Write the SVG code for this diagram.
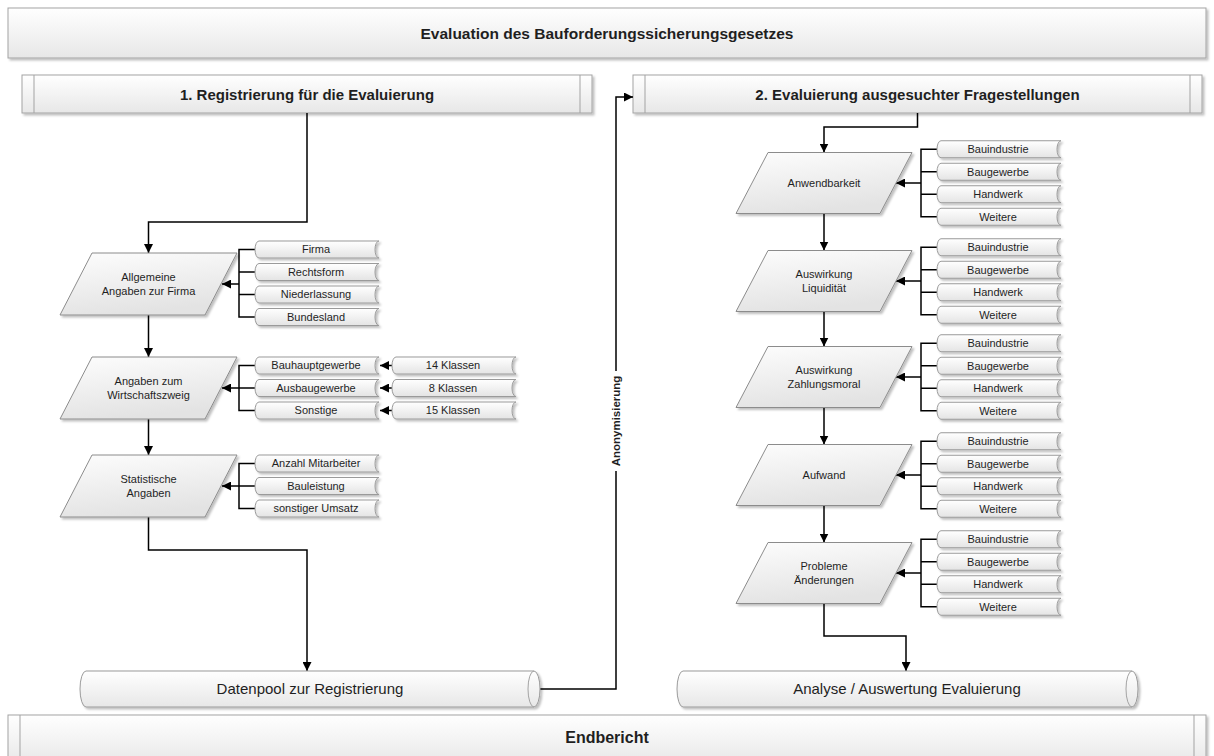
<svg xmlns="http://www.w3.org/2000/svg" xmlns:xlink="http://www.w3.org/1999/xlink" width="1214" height="756" viewBox="0 0 1214 756">
<defs>
<linearGradient id="gBar" x1="0" y1="0" x2="0" y2="1"><stop offset="0" stop-color="#ffffff"/><stop offset="1" stop-color="#e7e7e7"/></linearGradient>
<linearGradient id="gItem" x1="0" y1="0" x2="0" y2="1"><stop offset="0" stop-color="#ffffff"/><stop offset="1" stop-color="#e4e4e4"/></linearGradient>
<linearGradient id="gPar" x1="0" y1="0" x2="0.3" y2="1"><stop offset="0" stop-color="#fdfdfd"/><stop offset="1" stop-color="#e3e3e3"/></linearGradient>
<filter id="sh" x="-10%" y="-20%" width="130%" height="160%"><feDropShadow dx="2" dy="2" stdDeviation="1.2" flood-color="#000" flood-opacity="0.25"/></filter>
<marker id="arr" viewBox="0 0 10 10" refX="10" refY="5" markerWidth="9" markerHeight="9" markerUnits="userSpaceOnUse" orient="auto"><path d="M0,0 L10,5 L0,10 z" fill="#000"/></marker>
<path id="itemShape" d="M4,-8.5 H124 A4 8.5 0 0 0 124,8.5 H4 A4 8.5 0 0 1 4,-8.5 Z"/>
<style>
text{font-family:"Liberation Sans",Arial,sans-serif;fill:#1f1f1f;text-anchor:middle}
.t{font-size:11px}
.hb{font-size:15px;font-weight:bold}
.tb{font-size:15.5px;font-weight:bold}
.eb{font-size:16px;font-weight:bold}
.cy{font-size:15px}
.an{font-size:11.5px;font-weight:bold}
.bar{fill:url(#gBar);stroke:#a3a3a3;stroke-width:1;filter:url(#sh)}
.sep{stroke:#a3a3a3;stroke-width:1;fill:none}
.par{fill:url(#gPar);stroke:#8c8c8c;stroke-width:1;filter:url(#sh)}
.it{fill:url(#gItem);stroke:#9a9a9a;stroke-width:1;filter:url(#sh)}
.cyl{fill:url(#gBar);stroke:#9a9a9a;stroke-width:1;filter:url(#sh)}
.con{fill:none;stroke:#000;stroke-width:1.5}
.arrow{marker-end:url(#arr)}
</style>
</defs>
<rect width="1214" height="756" fill="#ffffff"/>

<g id="title">
<rect class="bar" x="8" y="8" width="1198" height="50"/>
<text class="tb" x="607" y="39">Evaluation des Bauforderungssicherungsgesetzes</text>
</g>

<g id="header1">
<rect class="bar" x="22" y="75" width="570" height="38"/>
<path class="sep" d="M34,75 V113 M580,75 V113"/>
<text class="hb" x="307" y="99.5">1. Registrierung für die Evaluierung</text>
</g>

<g id="header2">
<rect class="bar" x="633" y="75" width="569" height="38"/>
<path class="sep" d="M645,75 V113 M1190,75 V113"/>
<text class="hb" x="917.5" y="99.5">2. Evaluierung ausgesuchter Fragestellungen</text>
</g>

<g id="endbericht">
<rect class="bar" x="8" y="715" width="1198" height="50"/>
<path class="sep" d="M20,715 V765 M1194,715 V765"/>
<text class="eb" x="607" y="743">Endbericht</text>
</g>

<g id="connectors">
<path class="con arrow" d="M307,113 V222 H148.5 V253"/>
<path class="con arrow" d="M148.5,315 V357"/>
<path class="con arrow" d="M148.5,419 V455"/>
<path class="con arrow" d="M148.5,517 V550 H307 V671"/>
<path class="con arrow" d="M536,689 H616 V97 H633"/>
<path class="con arrow" d="M917.5,113 V127 H824 V152.5"/>
<path class="con arrow" d="M824,213.5 V250.5"/>
<path class="con arrow" d="M824,311.5 V346.5"/>
<path class="con arrow" d="M824,407.5 V444.5"/>
<path class="con arrow" d="M824,505.5 V542.5"/>
<path class="con arrow" d="M824,603.5 V636 H906 V671"/>
<path class="con" d="M255,249.5 H239 V317 H255 M239,272 H255 M239,294.5 H255"/>
<path class="con arrow" d="M239,284 H222"/>
<path class="con" d="M255,365.5 H239 V410.5 H255 M239,388 H255"/>
<path class="con arrow" d="M239,388 H222"/>
<path class="con" d="M255,463.5 H239 V508.5 H255 M239,486 H255"/>
<path class="con arrow" d="M239,486 H222"/>
<path class="con arrow" d="M392,365.5 H380"/>
<path class="con arrow" d="M392,388 H380"/>
<path class="con arrow" d="M392,410.5 H380"/>
<path class="con" d="M937,149.25 H921 V216.75 H937 M921,171.75 H937 M921,194.25 H937"/>
<path class="con arrow" d="M921,183 H896"/>
<path class="con" d="M937,247.25 H921 V314.75 H937 M921,269.75 H937 M921,292.25 H937"/>
<path class="con arrow" d="M921,281 H896"/>
<path class="con" d="M937,343.25 H921 V410.75 H937 M921,365.75 H937 M921,388.25 H937"/>
<path class="con arrow" d="M921,377 H896"/>
<path class="con" d="M937,441.25 H921 V508.75 H937 M921,463.75 H937 M921,486.25 H937"/>
<path class="con arrow" d="M921,475 H896"/>
<path class="con" d="M937,539.25 H921 V606.75 H937 M921,561.75 H937 M921,584.25 H937"/>
<path class="con arrow" d="M921,573 H896"/>
</g>

<g id="label-anonymisierung" transform="translate(616,421) rotate(-90)">
<rect x="-50" y="-8" width="100" height="16" fill="#ffffff"/>
<text class="an" x="0" y="4">Anonymisierung</text>
</g>

<g id="datenpool">
<path class="cyl" d="M86,671 H534 A6 18 0 0 1 534,707 H86 A6 18 0 0 1 86,671 Z"/>
<path class="sep" stroke="#9a9a9a" d="M534,671 A6 18 0 0 0 534,707"/>
<text class="cy" x="310" y="694">Datenpool zur Registrierung</text>
</g>

<g id="analyse">
<path class="cyl" d="M683,671 H1132 A6 18 0 0 1 1132,707 H683 A6 18 0 0 1 683,671 Z"/>
<path class="sep" stroke="#9a9a9a" d="M1132,671 A6 18 0 0 0 1132,707"/>
<text class="cy" x="907" y="694">Analyse / Auswertung Evaluierung</text>
</g>

<g id="p-allgemeine">
<polygon class="par" points="92,253 237,253 205,315 60,315"/>
<text class="t" x="148.5" y="280.8">Allgemeine</text>
<text class="t" x="148.5" y="294.8">Angaben zur Firma</text>
</g>
<g id="i-firma"><use class="it" xlink:href="#itemShape" x="255" y="249.5"/><text class="t" x="316" y="253.4">Firma</text></g>
<g id="i-rechtsform"><use class="it" xlink:href="#itemShape" x="255" y="272"/><text class="t" x="316" y="275.9">Rechtsform</text></g>
<g id="i-niederlassung"><use class="it" xlink:href="#itemShape" x="255" y="294.5"/><text class="t" x="316" y="298.4">Niederlassung</text></g>
<g id="i-bundesland"><use class="it" xlink:href="#itemShape" x="255" y="317"/><text class="t" x="316" y="320.9">Bundesland</text></g>

<g id="p-wirtschaftszweig">
<polygon class="par" points="92,357 237,357 205,419 60,419"/>
<text class="t" x="148.5" y="384.8">Angaben zum</text>
<text class="t" x="148.5" y="398.8">Wirtschaftszweig</text>
</g>
<g id="i-bauhaupt"><use class="it" xlink:href="#itemShape" x="255" y="365.5"/><text class="t" x="316" y="369.4">Bauhauptgewerbe</text></g>
<g id="i-ausbau"><use class="it" xlink:href="#itemShape" x="255" y="388"/><text class="t" x="316" y="391.9">Ausbaugewerbe</text></g>
<g id="i-sonstige"><use class="it" xlink:href="#itemShape" x="255" y="410.5"/><text class="t" x="316" y="414.4">Sonstige</text></g>
<g id="i-k14"><use class="it" xlink:href="#itemShape" x="392" y="365.5"/><text class="t" x="453" y="369.4">14 Klassen</text></g>
<g id="i-k8"><use class="it" xlink:href="#itemShape" x="392" y="388"/><text class="t" x="453" y="391.9">8 Klassen</text></g>
<g id="i-k15"><use class="it" xlink:href="#itemShape" x="392" y="410.5"/><text class="t" x="453" y="414.4">15 Klassen</text></g>

<g id="p-statistik">
<polygon class="par" points="92,455 237,455 205,517 60,517"/>
<text class="t" x="148.5" y="482.8">Statistische</text>
<text class="t" x="148.5" y="496.8">Angaben</text>
</g>
<g id="i-mitarbeiter"><use class="it" xlink:href="#itemShape" x="255" y="463.5"/><text class="t" x="316" y="467.4">Anzahl Mitarbeiter</text></g>
<g id="i-bauleistung"><use class="it" xlink:href="#itemShape" x="255" y="486"/><text class="t" x="316" y="489.9">Bauleistung</text></g>
<g id="i-umsatz"><use class="it" xlink:href="#itemShape" x="255" y="508.5"/><text class="t" x="316" y="512.4">sonstiger Umsatz</text></g>

<g id="p-anwendbarkeit">
<polygon class="par" points="768,152.5 912,152.5 880,213.5 736,213.5"/>
<text class="t" x="824" y="186.9">Anwendbarkeit</text>
</g>
<g id="g1-a"><use class="it" xlink:href="#itemShape" x="937" y="149.25"/><text class="t" x="998" y="153.15">Bauindustrie</text></g>
<g id="g1-b"><use class="it" xlink:href="#itemShape" x="937" y="171.75"/><text class="t" x="998" y="175.65">Baugewerbe</text></g>
<g id="g1-c"><use class="it" xlink:href="#itemShape" x="937" y="194.25"/><text class="t" x="998" y="198.15">Handwerk</text></g>
<g id="g1-d"><use class="it" xlink:href="#itemShape" x="937" y="216.75"/><text class="t" x="998" y="220.65">Weitere</text></g>

<g id="p-liquiditaet">
<polygon class="par" points="768,250.5 912,250.5 880,311.5 736,311.5"/>
<text class="t" x="824" y="277.9">Auswirkung</text>
<text class="t" x="824" y="291.9">Liquidität</text>
</g>
<g id="g2-a"><use class="it" xlink:href="#itemShape" x="937" y="247.25"/><text class="t" x="998" y="251.15">Bauindustrie</text></g>
<g id="g2-b"><use class="it" xlink:href="#itemShape" x="937" y="269.75"/><text class="t" x="998" y="273.65">Baugewerbe</text></g>
<g id="g2-c"><use class="it" xlink:href="#itemShape" x="937" y="292.25"/><text class="t" x="998" y="296.15">Handwerk</text></g>
<g id="g2-d"><use class="it" xlink:href="#itemShape" x="937" y="314.75"/><text class="t" x="998" y="318.65">Weitere</text></g>

<g id="p-zahlungsmoral">
<polygon class="par" points="768,346.5 912,346.5 880,407.5 736,407.5"/>
<text class="t" x="824" y="373.9">Auswirkung</text>
<text class="t" x="824" y="387.9">Zahlungsmoral</text>
</g>
<g id="g3-a"><use class="it" xlink:href="#itemShape" x="937" y="343.25"/><text class="t" x="998" y="347.15">Bauindustrie</text></g>
<g id="g3-b"><use class="it" xlink:href="#itemShape" x="937" y="365.75"/><text class="t" x="998" y="369.65">Baugewerbe</text></g>
<g id="g3-c"><use class="it" xlink:href="#itemShape" x="937" y="388.25"/><text class="t" x="998" y="392.15">Handwerk</text></g>
<g id="g3-d"><use class="it" xlink:href="#itemShape" x="937" y="410.75"/><text class="t" x="998" y="414.65">Weitere</text></g>

<g id="p-aufwand">
<polygon class="par" points="768,444.5 912,444.5 880,505.5 736,505.5"/>
<text class="t" x="824" y="478.9">Aufwand</text>
</g>
<g id="g4-a"><use class="it" xlink:href="#itemShape" x="937" y="441.25"/><text class="t" x="998" y="445.15">Bauindustrie</text></g>
<g id="g4-b"><use class="it" xlink:href="#itemShape" x="937" y="463.75"/><text class="t" x="998" y="467.65">Baugewerbe</text></g>
<g id="g4-c"><use class="it" xlink:href="#itemShape" x="937" y="486.25"/><text class="t" x="998" y="490.15">Handwerk</text></g>
<g id="g4-d"><use class="it" xlink:href="#itemShape" x="937" y="508.75"/><text class="t" x="998" y="512.65">Weitere</text></g>

<g id="p-probleme">
<polygon class="par" points="768,542.5 912,542.5 880,603.5 736,603.5"/>
<text class="t" x="824" y="569.9">Probleme</text>
<text class="t" x="824" y="583.9">Änderungen</text>
</g>
<g id="g5-a"><use class="it" xlink:href="#itemShape" x="937" y="539.25"/><text class="t" x="998" y="543.15">Bauindustrie</text></g>
<g id="g5-b"><use class="it" xlink:href="#itemShape" x="937" y="561.75"/><text class="t" x="998" y="565.65">Baugewerbe</text></g>
<g id="g5-c"><use class="it" xlink:href="#itemShape" x="937" y="584.25"/><text class="t" x="998" y="588.15">Handwerk</text></g>
<g id="g5-d"><use class="it" xlink:href="#itemShape" x="937" y="606.75"/><text class="t" x="998" y="610.65">Weitere</text></g>
</svg>
